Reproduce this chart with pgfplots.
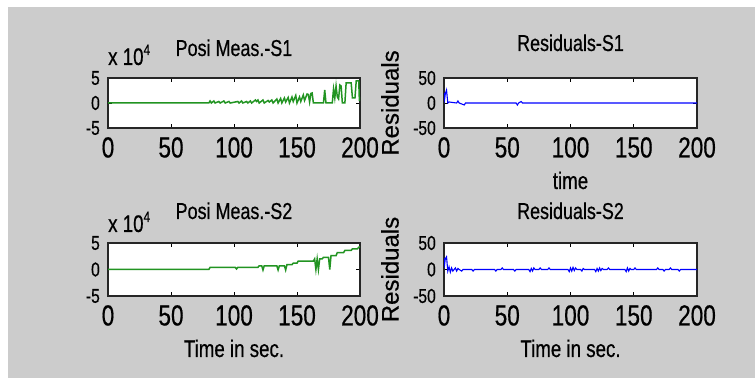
\documentclass[border=0pt]{standalone}
\usepackage{pgfplots}
\pgfplotsset{compat=1.18}
\usepackage{fontspec}
\setmainfont{Liberation Sans}[FakeStretch=0.78, FakeBold=0.5]
\newfontfamily\rotfont{Liberation Sans}[FakeBold=0.5]
\definecolor{figgray}{RGB}{204,204,204}
\definecolor{mgreen}{RGB}{34,148,34}
\definecolor{mblue}{RGB}{0,0,255}
\pgfplotsset{
  mstyle/.style={
    scale only axis, clip mode=individual,
    xmin=0, xmax=200,
    xtick={0,50,100,150,200}, xticklabels={0,50,100,150,200},
    tick align=inside, major tick length=4pt,
    axis background/.style={fill=white},
    axis line style={line width=1.1pt, black!85},
    every tick/.style={black, line width=0.9pt},
    /pgf/number format/assume math mode=true,
    xticklabel style={font=\fontsize{29}{29}\selectfont, anchor=north, inner sep=0pt, yshift=-9pt},
    yticklabel style={font=\fontsize{20}{20}\selectfont, anchor=east, inner sep=0pt, xshift=-8pt},
    title style={font=\fontsize{23}{23}\selectfont, at={(0.5,1)}, anchor=base, inner sep=0pt},
    xlabel style={font=\fontsize{24}{24}\selectfont, at={(0.5,0)}, anchor=base, inner sep=0pt, yshift=-61pt},
  },
  lstyle/.style={mstyle, ymin=-5, ymax=5, ytick={-5,0,5}, yticklabels={-5,0,5}},
  rstyle/.style={mstyle, ymin=-50, ymax=50, ytick={-50,0,50}, yticklabels={-50,0,50},
    ylabel={Residuals},
    ylabel style={font=\rotfont\fontsize{24}{24}\selectfont, at={(axis description cs:-0.2134,0.5)}, anchor=center, inner sep=0pt}},
}
\begin{document}
\begin{tikzpicture}
\fill[white] (0pt,0pt) rectangle (755pt,387pt);
\fill[figgray] (8pt,9pt) rectangle (755pt,380pt);
\path[use as bounding box] (0pt,0pt) rectangle (755pt,387pt);

% Top-left
\begin{axis}[lstyle, at={(108pt,259pt)}, anchor=south west, width=252pt, height=50pt,
  title={Posi Meas.-S1}, title style={yshift=16pt}]
\addplot[mgreen, line width=1.5pt] coordinates {
(0,0) (80,0) (81,0.4) (82,0) (84,0.4) (85,0) (88,0.3) (89,0) (92,0.4) (93,0) (96,0.3) (97,0)
(103,0.3) (104,0) (106,0.4) (107,0) (110,0.3) (111,0) (113,0.4) (114,0) (117,0.6) (118,0.3) (119,0.6) (120,0)
(123,0.6) (124,0) (127,0.5) (128,0.2) (130,0.6) (131,0) (134,0.8) (135,0) (137,0.9) (138,0) (140,1.0) (141,0.2)
(143,1.1) (144,0) (146,1.2) (147,0.3) (149,1.5) (150,0) (152,1.2) (153,0.3) (155,1.6) (156,0.5) (158,1.8) (159,1.7)
(160,0.2) (161,1.9) (162,2.0) (163,0) (171,0) (172,2.6) (173,0) (178,0) (179,2.8) (180,1.0) (181,3.4) (182,1.2)
(183,0.8) (184,3.6) (185,3.4) (186,0) (188,0) (189,4.0) (193,4.0) (194,1.0) (196,1.0) (197,4.4) (199,4.4) (199.5,0.5) (200,0.5)
};
\node[anchor=base west, inner sep=0pt, font=\fontsize{24}{24}\selectfont] at (rel axis cs:0,1) [yshift=13pt] {x 10\raisebox{10pt}{\fontsize{15}{15}\selectfont 4}};
\end{axis}

% Top-right
\begin{axis}[rstyle, at={(444pt,259pt)}, anchor=south west, width=253pt, height=50pt,
  title={Residuals-S1}, title style={yshift=21pt}, xlabel={time}]
\addplot[mblue, line width=1.1pt] coordinates {
(0,20) (0.5,8) (1,18) (2,26) (3,0) (4,2) (10,0) (11,4) (12,0) (16,-4) (17,0) (57,0) (58,-4) (59,0) (61,3) (62,0) (200,0)
};
\end{axis}

% Bottom-left
\begin{axis}[lstyle, at={(108pt,91pt)}, anchor=south west, width=252pt, height=53pt,
  title={Posi Meas.-S2}, title style={yshift=18pt}, xlabel={Time in sec.}]
\addplot[mgreen, line width=1.5pt] coordinates {
(0,0) (80,0) (81,0.4) (101,0.4) (102,0.1) (103,0.4) (119,0.4) (120,0.7) (122,0.7) (123,-0.1) (124,0.7)
(134,0.7) (135,-0.1) (136,0.7) (140,0.7) (141,-0.1) (142,0.9) (146,0.9) (147,1.2) (150,1.2) (151,1.6)
(163,1.6) (164,2.0) (165,0) (166,2.0) (167,0) (168,2.0) (170,2.0) (171,2.3) (175,2.3) (176,0) (177,2.6)
(181,2.6) (182,3.2) (187,3.2) (188,3.6) (193,3.6) (194,3.9) (198,3.9) (199,4.2) (200,4.3)
};
\node[anchor=base west, inner sep=0pt, font=\fontsize{24}{24}\selectfont] at (rel axis cs:0,1) [yshift=11pt] {x 10\raisebox{10pt}{\fontsize{15}{15}\selectfont 4}};
\end{axis}

% Bottom-right
\begin{axis}[rstyle, at={(444pt,91pt)}, anchor=south west, width=253pt, height=53pt,
  title={Residuals-S2}, title style={yshift=18pt}, xlabel={Time in sec.}]
\addplot[mblue, line width=1.1pt] coordinates {
(0,22) (0.5,10) (1,20) (2,24) (3,-3) (4,5) (5,-5) (6,3) (7,-3) (8,0) (9,3) (10,-3) (11,2) (12,0) (14,-3) (15,0)
(22,0) (23,-3) (24,0) (40,0) (41,-3) (42,0) (45,0) (46,3) (47,0) (55,0) (56,-3) (57,0) (67,0) (68,-4) (69,2)
(70,-3) (71,3) (72,0) (75,0) (76,3) (77,0) (82,0) (83,3) (84,0) (98,0) (99,-4) (100,3) (101,-3) (102,4) (103,-2)
(104,3) (105,0) (108,0) (109,-3) (110,2) (111,0) (119,0) (120,-4) (121,2) (122,-3) (123,3) (124,-2) (125,2) (126,0)
(129,0) (130,3) (131,0) (143,0) (144,-4) (145,3) (146,-3) (147,2) (148,0) (150,0) (151,3) (152,0) (168,0) (169,3)
(170,0) (173,0) (174,-3) (175,0) (178,0) (179,3) (180,0) (185,0) (186,-3) (187,0) (200,0)
};
\end{axis}
\end{tikzpicture}
\end{document}
